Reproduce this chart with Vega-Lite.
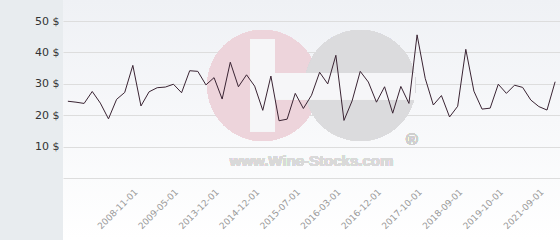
{
  "$schema": "https://vega.github.io/schema/vega-lite/v6.json",
  "width": 497,
  "height": 240,
  "autosize": {"type": "none"},
  "padding": {"left": 63, "top": 0, "right": 0, "bottom": 0},
  "background": "#e8ecef",
  "config": {
    "font": "DejaVu Sans",
    "view": {
      "stroke": null,
      "fill": {"gradient": "linear", "x1": 0, "y1": 0, "x2": 0, "y2": 1, "stops": [{"offset": 0, "color": "#eff1f5"}, {"offset": 1, "color": "#ffffff"}]}
    }
  },
  "datasets": {
    "prices": [
      {"date": "2008-03-01", "price": 24.5},
      {"date": "2008-04-01", "price": 24.2},
      {"date": "2008-05-01", "price": 23.8},
      {"date": "2008-06-01", "price": 27.6},
      {"date": "2008-07-01", "price": 23.9},
      {"date": "2008-08-01", "price": 18.9},
      {"date": "2008-09-01", "price": 25.1},
      {"date": "2008-10-01", "price": 27.3},
      {"date": "2008-11-01", "price": 35.9},
      {"date": "2008-12-01", "price": 23.0},
      {"date": "2009-01-01", "price": 27.5},
      {"date": "2009-02-01", "price": 28.8},
      {"date": "2009-03-01", "price": 29.0},
      {"date": "2009-05-01", "price": 29.9},
      {"date": "2009-09-01", "price": 27.2},
      {"date": "2010-06-01", "price": 34.2},
      {"date": "2011-05-01", "price": 34.0},
      {"date": "2012-08-01", "price": 29.7},
      {"date": "2013-12-01", "price": 32.0},
      {"date": "2014-02-01", "price": 25.2},
      {"date": "2014-04-01", "price": 36.9},
      {"date": "2014-07-01", "price": 29.1},
      {"date": "2014-09-01", "price": 32.9},
      {"date": "2014-12-01", "price": 29.3},
      {"date": "2015-02-01", "price": 21.6},
      {"date": "2015-03-01", "price": 32.5},
      {"date": "2015-04-01", "price": 18.3},
      {"date": "2015-05-01", "price": 18.8},
      {"date": "2015-07-01", "price": 27.0},
      {"date": "2015-08-01", "price": 22.2},
      {"date": "2015-10-01", "price": 26.4},
      {"date": "2015-11-01", "price": 33.7},
      {"date": "2016-01-01", "price": 30.0},
      {"date": "2016-03-01", "price": 39.1},
      {"date": "2016-05-01", "price": 18.4},
      {"date": "2016-06-01", "price": 24.6},
      {"date": "2016-08-01", "price": 34.0},
      {"date": "2016-10-01", "price": 30.6},
      {"date": "2016-12-01", "price": 24.2},
      {"date": "2017-02-01", "price": 29.1},
      {"date": "2017-04-01", "price": 20.7},
      {"date": "2017-06-01", "price": 29.2},
      {"date": "2017-08-01", "price": 23.8},
      {"date": "2017-10-01", "price": 45.6},
      {"date": "2017-12-01", "price": 31.8},
      {"date": "2018-02-01", "price": 23.3},
      {"date": "2018-04-01", "price": 26.3},
      {"date": "2018-06-01", "price": 19.5},
      {"date": "2018-09-01", "price": 22.9},
      {"date": "2018-11-01", "price": 41.0},
      {"date": "2019-01-01", "price": 27.7},
      {"date": "2019-04-01", "price": 22.0},
      {"date": "2019-07-01", "price": 22.3},
      {"date": "2019-10-01", "price": 29.9},
      {"date": "2020-02-01", "price": 27.0},
      {"date": "2020-06-01", "price": 29.6},
      {"date": "2020-11-01", "price": 28.9},
      {"date": "2021-04-01", "price": 24.9},
      {"date": "2021-09-01", "price": 22.8},
      {"date": "2021-12-01", "price": 21.7},
      {"date": "2022-03-01", "price": 30.7}
    ]
  },
  "data": {"name": "prices"},
  "encoding": {
    "x": {
      "field": "date",
      "type": "ordinal",
      "sort": "ascending",
      "scale": {"type": "point", "padding": 0.6},
      "axis": {
        "title": null,
        "values": ["2008-11-01", "2009-05-01", "2013-12-01", "2014-12-01", "2015-07-01", "2016-03-01", "2016-12-01", "2017-10-01", "2018-09-01", "2019-10-01", "2021-09-01"],
        "offset": -61.7,
        "labelAngle": -45,
        "labelPadding": 9,
        "labelFontSize": 9,
        "labelColor": "#9a9a9a",
        "labelOverlap": false,
        "ticks": false,
        "domain": false,
        "grid": false
      }
    },
    "y": {
      "field": "price",
      "type": "quantitative",
      "scale": {"domain": [-19.61, 56.68], "nice": false, "zero": false},
      "axis": {
        "title": null,
        "values": [0, 10, 20, 30, 40, 50],
        "labelExpr": "datum.value == 0 ? '' : datum.value + ' $'",
        "labelFontSize": 11,
        "labelColor": "#333333",
        "labelPadding": 4,
        "ticks": false,
        "domain": false,
        "grid": true,
        "gridColor": "#dddddd"
      }
    }
  },
  "layer": [
    {
      "mark": {"type": "point", "filled": true, "shape": "circle", "size": 12272, "color": "#edd4db", "opacity": 1},
      "encoding": {"x": {"datum": "2015-02-01"}, "y": {"datum": 29.5}}
    },
    {
      "mark": {"type": "point", "filled": true, "shape": "circle", "size": 12272, "color": "#dbdbdd", "opacity": 1},
      "encoding": {"x": {"datum": "2016-08-01"}, "y": {"datum": 29.5}}
    },
    {
      "mark": {"type": "point", "filled": true, "shape": "M-0.26,-1L0.26,-1L0.26,1L-0.26,1Z", "size": 8464, "color": "#f6f6f8", "opacity": 1},
      "encoding": {"x": {"datum": "2015-02-01"}, "y": {"datum": 29.5}}
    },
    {
      "mark": {"type": "point", "filled": true, "shape": "M-1,-0.166L1,-0.166L1,0.166L-1,0.166Z", "size": 24649, "color": "#f6f6f8", "opacity": 1},
      "encoding": {"x": {"datum": "2016-03-01"}, "y": {"datum": 29.3}}
    },
    {
      "mark": {"type": "text", "text": "www.Wine-Stocks.com", "font": "Liberation Sans", "fontWeight": "bold", "fontSize": 15, "color": "#d9d9d9", "baseline": "middle", "align": "center"},
      "encoding": {"x": {"datum": "2015-10-01"}, "y": {"datum": 5.5}}
    },
    {
      "mark": {"type": "text", "text": "®", "font": "Liberation Sans", "fontSize": 16, "color": "#cfcfcf", "baseline": "middle", "align": "center", "dx": 3},
      "encoding": {"x": {"datum": "2017-08-01"}, "y": {"datum": 12.2}}
    },
    {
      "mark": {"type": "line", "color": "#3a2433", "strokeWidth": 1}
    }
  ]
}
